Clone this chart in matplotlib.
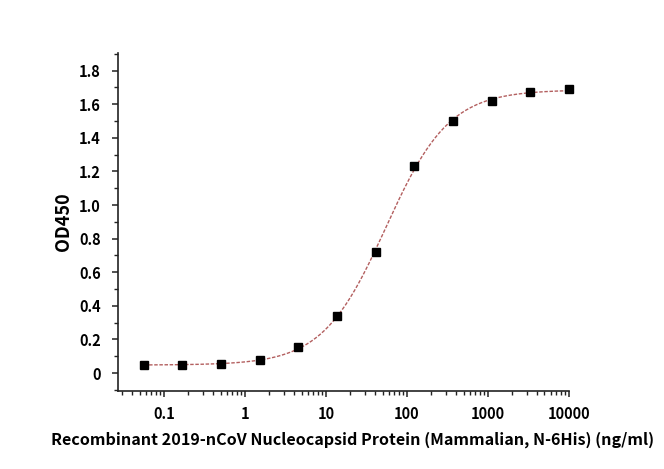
#!/usr/bin/env python3
"""ELISA binding curve: OD450 vs Nucleocapsid protein concentration (4PL fit)."""
import numpy as np
import matplotlib
matplotlib.use('Agg')
import matplotlib.pyplot as plt
from matplotlib.ticker import LogLocator, FixedLocator, MultipleLocator, NullFormatter

plt.rcParams['font.family'] = ['Noto Sans CJK SC', 'DejaVu Sans']

# data (3-fold dilution series)
conc = [0.0565, 0.169, 0.508, 1.52, 4.57, 13.7, 41.2, 123.5, 370.4, 1111, 3333, 10000]
od450 = [0.045, 0.045, 0.055, 0.08, 0.155, 0.34, 0.72, 1.23, 1.50, 1.62, 1.67, 1.69]

x_ticks = [0.1, 1, 10, 100, 1000, 10000]
x_tick_labels = ['0.1', '1', '10', '100', '1000', '10000']
y_ticks = [0, 0.2, 0.4, 0.6, 0.8, 1.0, 1.2, 1.4, 1.6, 1.8]
y_tick_labels = ['0', '0.2', '0.4', '0.6', '0.8', '1.0', '1.2', '1.4', '1.6', '1.8']

x_label = 'Recombinant 2019-nCoV Nucleocapsid Protein (Mammalian, N-6His) (ng/ml)'
y_label = 'OD450'


def fit_4pl(x, y):
    """Grid search on hill/ec50, linear least squares for bottom/top."""
    x = np.asarray(x, dtype=float)
    y = np.asarray(y, dtype=float)
    best = None
    for h in np.linspace(0.6, 2.0, 141):
        for log_ec in np.linspace(0.5, 3.0, 251):
            s = 1.0 / (1.0 + (10 ** log_ec / x) ** h)
            A = np.column_stack([1 - s, s])
            coef, *_ = np.linalg.lstsq(A, y, rcond=None)
            err = np.sum((A @ coef - y) ** 2)
            if best is None or err < best[0]:
                best = (err, coef[0], coef[1], 10 ** log_ec, h)
    return best[1:]


def main():
    bottom, top, ec50, hill = fit_4pl(conc, od450)
    xs = np.logspace(np.log10(conc[0]), np.log10(conc[-1]), 300)
    ys = bottom + (top - bottom) / (1 + (ec50 / xs) ** hill)

    fig = plt.figure(figsize=(6.64, 4.69), dpi=100)
    ax = fig.add_axes([0.1777, 0.1663, 0.679, 0.7207])

    ax.plot(xs, ys, color='#b35f5f', lw=1.0, ls=(0, (2.5, 1.2)), clip_on=False)
    ax.plot(conc, od450, ls='none', marker='s', ms=5.8, color='black', clip_on=False)

    ax.set_xscale('log')
    ax.set_xlim(0.027, 10000)
    ax.set_ylim(-0.107, 1.905)

    ax.xaxis.set_major_locator(FixedLocator(x_ticks))
    ax.set_xticklabels(x_tick_labels)
    ax.xaxis.set_minor_locator(LogLocator(base=10, subs=np.arange(2, 10)))
    ax.xaxis.set_minor_formatter(NullFormatter())
    ax.yaxis.set_major_locator(FixedLocator(y_ticks))
    ax.set_yticklabels(y_tick_labels)
    ax.yaxis.set_minor_locator(MultipleLocator(0.1))

    for side in ('top', 'right'):
        ax.spines[side].set_visible(False)
    for side in ('left', 'bottom'):
        ax.spines[side].set_linewidth(1.2)
        ax.spines[side].set_color('#222222')

    ax.tick_params(which='major', length=4.5, width=1.1, color='#222222',
                   labelsize=10.5, pad=6)
    ax.tick_params(which='minor', length=2.8, width=1.0, color='#222222')
    ax.tick_params(axis='y', which='major', pad=8)
    for lbl in ax.get_xticklabels() + ax.get_yticklabels():
        lbl.set_fontweight('bold')

    ax.set_xlabel(x_label, fontsize=11.6, fontweight='bold')
    ax.xaxis.set_label_coords(0.52, -0.12)
    ax.set_ylabel(y_label, fontsize=13, fontweight='bold', labelpad=4)

    fig.savefig('out.png', dpi=100)


if __name__ == '__main__':
    main()
